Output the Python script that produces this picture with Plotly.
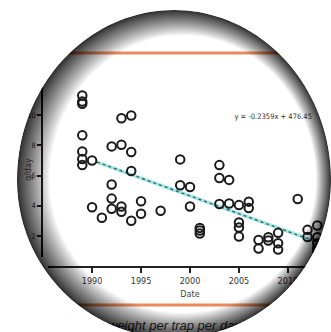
import math
import plotly.graph_objects as go

# ---- data ----
years = [1989]*7 + [1990]*2 + [1991] + [1992]*4 + [1993]*4 + [1994]*4 + [1995]*2 + [1997] + \
        [1999]*2 + [2000]*2 + [2001]*3 + [2003]*3 + [2004]*2 + [2005]*4 + [2006]*2 + [2007]*2 + \
        [2008]*2 + [2009]*3 + [2011] + [2012]*2 + [2013]*5 + [2014]
g_day = [11.3, 10.9, 10.75, 8.67, 7.6, 7.1, 6.7,
         7.0, 3.9,
         3.2,
         7.93, 5.4, 4.47, 3.8,
         9.8, 8.04, 3.95, 3.6,
         9.98, 7.56, 6.3, 3.0,
         4.3, 3.47,
         3.67,
         7.07, 5.36,
         5.24, 3.95,
         2.53, 2.36, 2.16,
         6.69, 5.84, 4.11,
         5.71, 4.15,
         4.04, 2.89, 2.56, 1.96,
         4.27, 3.84,
         1.73, 1.16,
         1.91, 1.69,
         2.2, 1.51, 1.09,
         4.44,
         2.4, 1.93,
         2.69, 1.91, 1.51, 1.18, 1.02,
         2.04]
trend_slope = -0.2359
trend_intercept = 476.45
trend_years = [1990.5, 2013.3]
x_ticks = [1990, 1995, 2000, 2005, 2010]
y_ticks = [2, 4, 6, 8, 10]
equation = "y = -0.2359x + 476.45"
x_title = "Date"
y_title = "g/day"
caption = "weight per trap per day"

trend_vals = [trend_slope * y + trend_intercept for y in trend_years]

W, H = 331, 332
FONT = "Liberation Sans Narrow, DejaVu Sans Condensed, Arial Narrow, sans-serif"

fig = go.Figure()
fig.add_trace(go.Scatter(x=trend_years, y=trend_vals, mode="lines",
                         line=dict(color="#a8e6e6", width=3.5), hoverinfo="skip"))
fig.add_trace(go.Scatter(x=trend_years, y=trend_vals, mode="lines",
                         line=dict(color="#2f6b6b", width=1.4, dash="dot"), hoverinfo="skip"))
fig.add_trace(go.Scatter(x=years, y=g_day, mode="markers",
                         marker=dict(symbol="circle-open", size=8.5, color="#1a1a1a",
                                     line=dict(width=2, color="#1a1a1a"))))
fig.add_trace(go.Scatter(x=[2008.5], y=[9.87], mode="text", text=[equation],
                         textfont=dict(family=FONT, size=7.5, color="#333333"),
                         cliponaxis=False))
# text on pixel overlay
fig.add_trace(go.Scatter(x=[190], y=[295], mode="text", text=[x_title], xaxis="x2", yaxis="y2",
                         textfont=dict(family=FONT, size=9, color="#444444")))
fig.add_trace(go.Scatter(x=[108], y=[327], mode="text", text=[caption], xaxis="x2", yaxis="y2",
                         textposition="middle right",
                         textfont=dict(family="Liberation Sans, Arial, sans-serif", size=13,
                                       color="#333333", style="italic")))


def ellipse(cx, cy, a, b_top, b_bot, n=160):
    pts = []
    for i in range(n):
        t = 2 * math.pi * i / n
        st = math.sin(t)
        b = b_bot if st > 0 else b_top
        pts.append((cx + a * math.cos(t), cy + b * st))
    return "M " + " L ".join(f"{x:.2f},{y:.2f}" for x, y in pts) + " Z"


CX, CY, A, BT, BB = 174, 180, 157, 170, 158
shapes = []
for yy in (53, 305):
    shapes.append(dict(type="line", xref="x2", yref="y2", x0=0, x1=W, y0=yy, y1=yy,
                       line=dict(color="#ea8a5c", width=3), layer="above"))
outer = ellipse(CX, CY, A, BT, BB)
N = 40
smax = 25
for k in range(1, N + 1):
    s = smax * (k / N) ** 2.0
    inner = ellipse(CX + 0.35 * s, CY, A - 0.95 * s, BT - s, BB - s)
    shapes.append(dict(type="path", xref="x2", yref="y2", path=outer + " " + inner,
                       fillrule="evenodd", fillcolor="rgba(0,0,0,0.042)",
                       line=dict(width=0), layer="above"))
mask = "M -20,-20 L 360,-20 L 360,360 L -20,360 Z " + outer
shapes.append(dict(type="path", xref="x2", yref="y2", path=mask, fillrule="evenodd",
                   fillcolor="white", line=dict(width=0), layer="above"))

fig.update_layout(
    width=W, height=H, margin=dict(l=0, r=0, t=0, b=0),
    paper_bgcolor="white", plot_bgcolor="rgba(0,0,0,0)",
    showlegend=False,
    xaxis=dict(domain=[48 / W, 1], range=[1985.5, 2014.4], anchor="free",
               position=(H - 267) / H, showgrid=False, zeroline=False,
               showline=True, linecolor="#222222", linewidth=1.5,
               ticks="outside", ticklen=5, tickwidth=1.5, tickcolor="#222222",
               tickvals=x_ticks, tickfont=dict(family=FONT, size=9, color="#333333")),
    yaxis=dict(domain=[(H - 257) / H, (H - 85) / H], range=[0.6, 12.0], anchor="free",
               position=42 / W, showgrid=False, zeroline=False,
               showline=True, linecolor="#222222", linewidth=1.5,
               ticks="outside", ticklen=4, tickwidth=1.5, tickcolor="#222222",
               tickvals=y_ticks, tickfont=dict(family=FONT, size=7.5, color="#444444")),
    xaxis2=dict(domain=[0, 1], range=[0, W], visible=False, anchor="y2", fixedrange=True),
    yaxis2=dict(domain=[0, 1], range=[H, 0], visible=False, anchor="x2", fixedrange=True),
    shapes=shapes,
    annotations=[dict(text=y_title, xref="paper", yref="paper", x=21 / W, y=(H - 170) / H,
                      textangle=-90, showarrow=False,
                      font=dict(family=FONT, size=9, color="#222222"))],
)
fig.write_html("out.html", config={"displayModeBar": False},
               post_script="document.body.style.margin='0';document.body.style.overflow='hidden';")
